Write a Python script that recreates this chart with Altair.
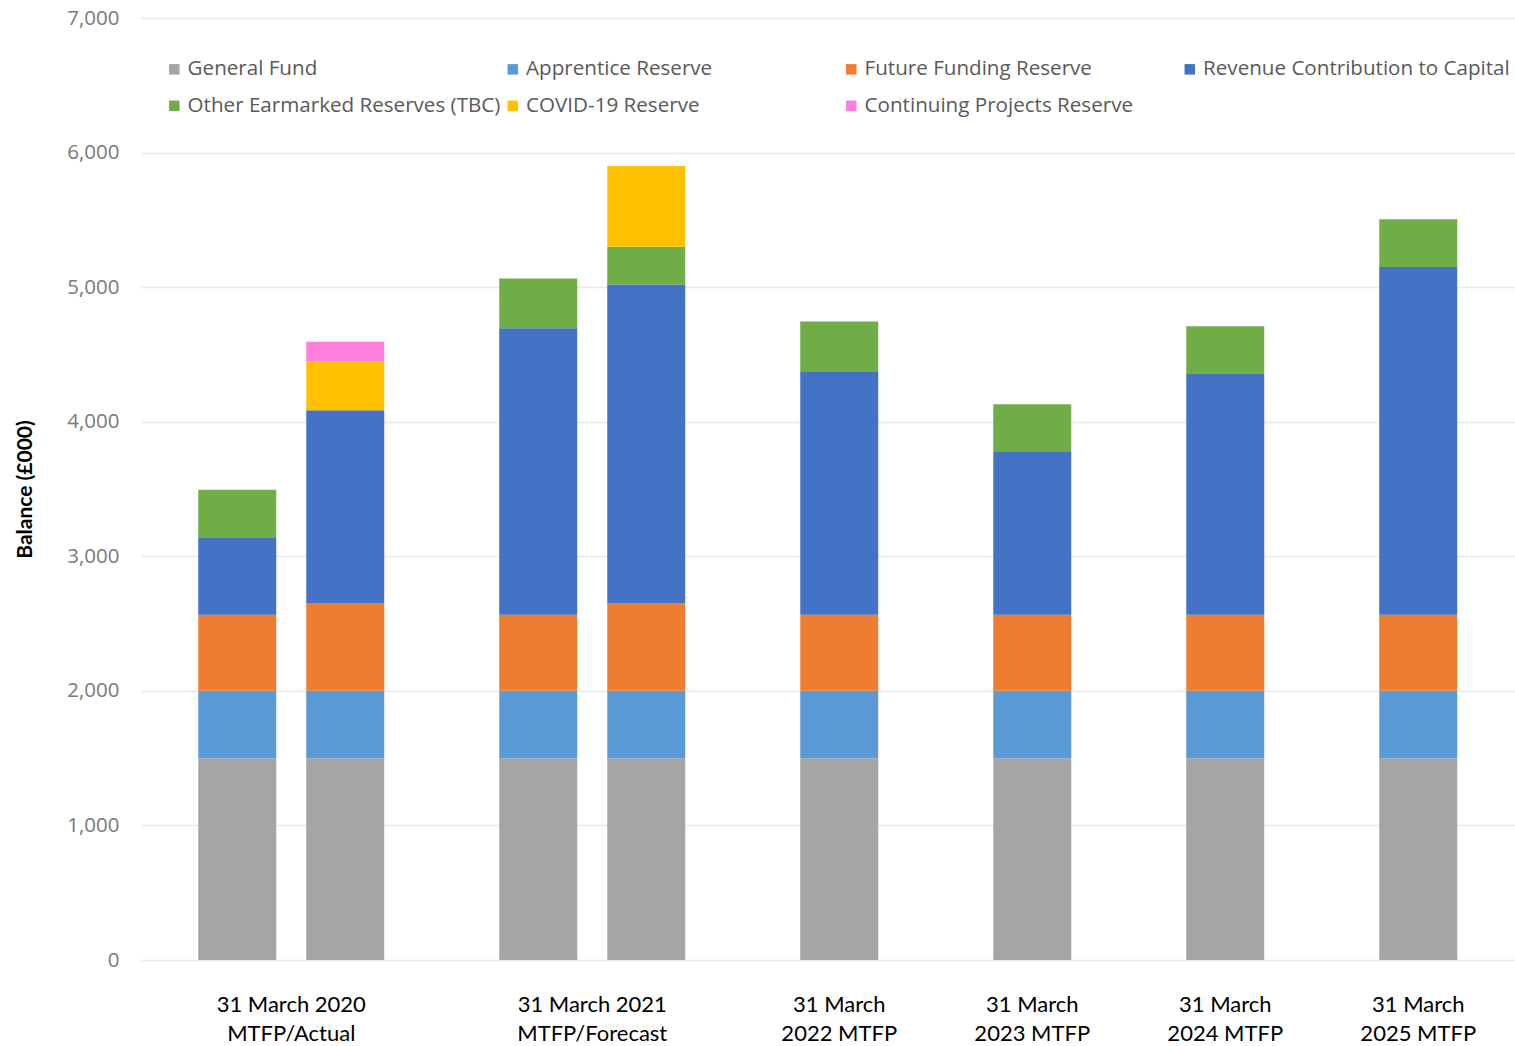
import altair as alt
import pandas as pd

# Bars (one per stacked column) and the category each belongs to
bars = ["2020 MTFP", "2020 Actual", "2021 MTFP", "2021 Forecast",
        "2022 MTFP", "2023 MTFP", "2024 MTFP", "2025 MTFP"]
bar_groups = ["31 March 2020|MTFP/Actual", "31 March 2020|MTFP/Actual",
              "31 March 2021|MTFP/Forecast", "31 March 2021|MTFP/Forecast",
              "31 March|2022 MTFP", "31 March|2023 MTFP",
              "31 March|2024 MTFP", "31 March|2025 MTFP"]
group_order = ["31 March 2020|MTFP/Actual", "31 March 2021|MTFP/Forecast",
               "31 March|2022 MTFP", "31 March|2023 MTFP",
               "31 March|2024 MTFP", "31 March|2025 MTFP"]

series = ["General Fund", "Apprentice Reserve", "Future Funding Reserve",
          "Revenue Contribution to Capital", "Other Earmarked Reserves (TBC)",
          "COVID-19 Reserve", "Continuing Projects Reserve"]
colors = ["#A5A5A5", "#5B9BD5", "#ED7D31", "#4472C4", "#70AD47", "#FFC000", "#FF7FDD"]

# Segment values (£000) per bar
general_fund = [1500, 1500, 1500, 1500, 1500, 1500, 1500, 1500]
apprentice = [500, 500, 500, 500, 500, 500, 500, 500]
future_funding = [565, 650, 565, 650, 565, 565, 565, 565]
revenue_capital = [570, 1435, 2130, 2370, 1810, 1210, 1790, 2585]
other_earmarked = [360, 0, 370, 280, 370, 355, 355, 355]
covid = [0, 365, 0, 600, 0, 0, 0, 0]
continuing = [0, 145, 0, 0, 0, 0, 0, 0]

values = [general_fund, apprentice, future_funding, revenue_capital,
          other_earmarked, covid, continuing]

rows = []
for s_i, (name, vals) in enumerate(zip(series, values)):
    for b, g, v in zip(bars, bar_groups, vals):
        if v > 0:
            rows.append({"bar": b, "group": g, "series": name, "order": s_i, "value": v})
df = pd.DataFrame(rows)

y_ticks = [0, 1000, 2000, 3000, 4000, 5000, 6000, 7000]

base = alt.Chart(df).mark_bar().encode(
    x=alt.X("bar:N", sort=bars, axis=None,
            scale=alt.Scale(paddingInner=0.2778, paddingOuter=0.5301)),
    y=alt.Y("value:Q", stack="zero",
            scale=alt.Scale(domain=[0, 7000], nice=False),
            axis=alt.Axis(values=y_ticks, format=",.0f", title="Balance (£000)",
                          labelFont="Open Sans", labelFontSize=20.5, labelColor="#7a7a7a",
                          labelPadding=22, ticks=False, domain=False,
                          gridColor="#e8e8e8", gridWidth=1.5,
                          titleFont="Lato", titleFontSize=21, titleFontWeight="bold",
                          titleColor="#000000", titlePadding=31)),
    color=alt.Color("series:N", scale=alt.Scale(domain=series, range=colors),
                    legend=alt.Legend(title=None, orient="none", legendX=23, legendY=41,
                                      columns=4, gridAlign="all", direction="horizontal",
                                      symbolType="square", symbolSize=110,
                                      symbolStrokeWidth=0, labelFont="Open Sans",
                                      labelFontSize=20.6, labelColor="#595959",
                                      labelLimit=500, labelOffset=3,
                                      columnPadding=1.5, rowPadding=15.5)),
    order=alt.Order("order:Q", sort="ascending"),
).properties(width=alt.Step(108), height=942)

chart = base.facet(
    column=alt.Column("group:N", sort=group_order,
                      header=alt.Header(title=None, labelOrient="bottom",
                                        labelExpr="split(datum.value, '|')",
                                        labelFont="Lato", labelFontSize=22,
                                        labelColor="#000000", labelPadding=35,
                                        labelLineHeight=29)),
    spacing=0,
).resolve_scale(x="independent").properties(
    padding={"left": 14, "top": 8, "right": 0, "bottom": 0}
).configure(background="white").configure_view(strokeWidth=0, stroke=None)

chart.save("out.html", embed_options={"renderer": "svg", "actions": False})
